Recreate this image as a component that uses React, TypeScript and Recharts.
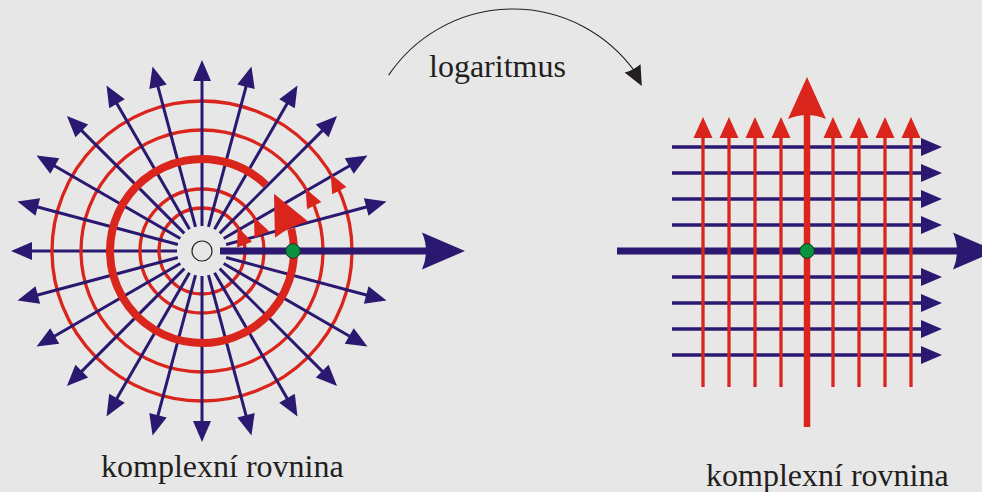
import React from 'react';
import { ScatterChart, Scatter, XAxis, YAxis } from 'recharts';

const W = 982;
const H = 492;
const X_DOMAIN: [number, number] = [0, 982];
const Y_DOMAIN: [number, number] = [0, 492];
const PX = W / (X_DOMAIN[1] - X_DOMAIN[0]);

const BG = '#e7e7e7';
const NAVY = '#2b1870';
const RED = '#da251d';
const GREEN = '#08943f';
const INK = '#231f20';
const FONT = "'Liberation Serif', 'Times New Roman', Times, serif";

// ---------- data: left figure (z-plane) ----------
const leftCenter = [202, 251];
const rayAngles = [15, 30, 45, 60, 75, 90, 105, 120, 135, 150, 165, 195, 210, 225, 240, 255, 270, 285, 300, 315, 330, 345];
const backRayAngle = 180;
const rayRadii = [25, 191];
const circleRadii = [43, 62, 121, 150];
const circleArrowAngles = [34, 33, 31, 31];
const spiralRadius = 92;
const spiralSpan = [46, 374];
const spiralArrowAngle = 38.5;
const leftAxisSpan = [220, 465];
const leftPoint = [293, 251];

// ---------- data: right figure (w-plane) ----------
const rightCenter = [807, 251];
const gridStep = 26;
const gridOffsets = [-4, -3, -2, -1, 1, 2, 3, 4];
const hGridSpan = [672, 942];
const vGridSpan = [387, 117];
const rightAxisH = [617, 996];
const rightAxisV = [427, 77];

// ---------- data: mapping arc + titles ----------
const mapArcCenter = [513, 159];
const mapArcRadius = 150;
const mapArcAngles = [146, 29.5]; // start, arrow tip
const titles = ['logaritmus', 'komplexní rovnina', 'komplexní rovnina'];
const titlePos = [[429, 77], [101, 477], [706, 486]];

// ---------- helpers ----------
const rad = (d: number) => (d * Math.PI) / 180;
const deg = (r: number) => (r * 180) / Math.PI;
const polar = (c: number[], r: number, a: number) => ({
  x: c[0] + r * Math.cos(rad(a)),
  y: c[1] - r * Math.sin(rad(a)),
});
const dirOf = (from: { x: number; y: number }, to: { x: number; y: number }) =>
  deg(Math.atan2(-(to.y - from.y), to.x - from.x));

const NoShape = () => <g />;

const makeArrow = (len: number, wid: number, fill: string, notch = 0) => (props: any) => {
  const { cx, cy, payload } = props;
  if (cx == null || cy == null) return <g />;
  const a = rad(payload.dir);
  const L = len * PX;
  const Wd = wid * PX;
  const ux = Math.cos(a);
  const uy = -Math.sin(a);
  const px = -uy;
  const py = ux;
  const bx = cx - L * ux;
  const by = cy - L * uy;
  const lx = bx + (px * Wd) / 2;
  const ly = by + (py * Wd) / 2;
  const rx = bx - (px * Wd) / 2;
  const ry = by - (py * Wd) / 2;
  const qx = bx + 2 * notch * ux;
  const qy = by + 2 * notch * uy;
  const d = `M${cx},${cy} L${lx},${ly} Q${qx},${qy} ${rx},${ry} Z`;
  return <path d={d} fill={fill} stroke="none" />;
};

const RingShape = (stroke: string, width: number, fill = 'none') => (props: any) => {
  const { cx, cy, payload } = props;
  return <circle cx={cx} cy={cy} r={payload.r * PX} fill={fill} stroke={stroke} strokeWidth={width} />;
};

const ArcShape = (stroke: string, width: number) => (props: any) => {
  const { cx, cy, payload } = props;
  const r = payload.r * PX;
  const a0 = rad(payload.a0);
  const a1 = rad(payload.a1);
  const x0 = cx + r * Math.cos(a0);
  const y0 = cy - r * Math.sin(a0);
  const x1 = cx + r * Math.cos(a1);
  const y1 = cy - r * Math.sin(a1);
  const span = Math.abs(payload.a1 - payload.a0);
  const large = span > 180 ? 1 : 0;
  const sweep = payload.a1 > payload.a0 ? 0 : 1;
  return (
    <path
      d={`M${x0},${y0} A${r},${r} 0 ${large} ${sweep} ${x1},${y1}`}
      fill="none"
      stroke={stroke}
      strokeWidth={width}
    />
  );
};

const TextShape = (props: any) => {
  const { cx, cy, payload } = props;
  return (
    <text x={cx} y={cy} fontFamily={FONT} fontSize={32} fill={INK} textAnchor="start">
      {payload.text}
    </text>
  );
};

const segment = (key: string, pts: { x: number; y: number }[], color: string, width: number) => (
  <Scatter
    key={key}
    data={pts}
    line={{ stroke: color, strokeWidth: width, strokeLinecap: 'butt' }}
    lineType="joint"
    shape={NoShape}
    isAnimationActive={false}
  />
);

// ---------- build ----------
const THIN_L = 21;
const THIN_W = 18;

const rayLine = (a: number) => [polar(leftCenter, rayRadii[0], a), polar(leftCenter, rayRadii[1] - THIN_L + 3, a)];
const rayTip = (a: number) => ({ ...polar(leftCenter, rayRadii[1], a), dir: a });

const CIRC_L = 19;
const circleArrows = circleRadii.map((r, i) => {
  const tip = polar(leftCenter, r, circleArrowAngles[i]);
  const base = polar(leftCenter, r, circleArrowAngles[i] - deg(CIRC_L / r));
  return { ...tip, dir: dirOf(base, tip) };
});

const SPIRAL_L = 40;
const spiralArrow = (() => {
  const tip = polar(leftCenter, spiralRadius, spiralArrowAngle);
  const base = polar(leftCenter, spiralRadius, spiralArrowAngle - deg(SPIRAL_L / spiralRadius));
  return [{ ...tip, dir: dirOf(base, tip) }];
})();

const MAP_L = 20;
const mapBaseAngle = mapArcAngles[1] + deg(MAP_L / mapArcRadius);
const mapArrow = (() => {
  const tip = polar(mapArcCenter, mapArcRadius - 2, mapArcAngles[1]);
  const base = polar(mapArcCenter, mapArcRadius, mapBaseAngle);
  return [{ ...tip, dir: dirOf(base, tip) }];
})();

const titleData = titles.map((t, i) => ({ x: titlePos[i][0], y: titlePos[i][1], text: t }));

const hY = gridOffsets.map((o) => rightCenter[1] + o * gridStep);
const vX = gridOffsets.map((o) => rightCenter[0] + o * gridStep);

const BIG_L = 43;
const BIG_W = 37;
const BIGV_L = 42;
const BIGV_W = 38;

const navyThin = makeArrow(THIN_L, THIN_W, NAVY);
const redThin = makeArrow(THIN_L, 19, RED);
const redCirc = makeArrow(CIRC_L, 16, RED);
const redSpiral = makeArrow(SPIRAL_L, 37, RED, 2);
const navyBig = makeArrow(BIG_L, BIG_W, NAVY, 4);
const redBig = makeArrow(BIGV_L, BIGV_W, RED, 4);
const blackArrow = makeArrow(MAP_L, 18, INK, 1);

export default function App() {
  return (
    <div style={{ position: 'absolute', left: 0, top: 0, width: W, height: H, background: BG, overflow: 'hidden' }}>
      <ScatterChart width={W} height={H} margin={{ top: 0, right: 0, bottom: 0, left: 0 }}>
        <XAxis type="number" dataKey="x" domain={X_DOMAIN} allowDataOverflow hide />
        <YAxis type="number" dataKey="y" domain={Y_DOMAIN} reversed allowDataOverflow hide />

        {/* titles and mapping arc */}
        <Scatter data={titleData} shape={TextShape} isAnimationActive={false} />
        <Scatter
          data={[{ x: mapArcCenter[0], y: mapArcCenter[1], r: mapArcRadius, a0: mapArcAngles[0], a1: mapBaseAngle - 1 }]}
          shape={ArcShape(INK, 1.1)}
          isAnimationActive={false}
        />
        <Scatter data={mapArrow} shape={blackArrow} isAnimationActive={false} />

        {/* left: back ray under circles */}
        {segment('ray-back', rayLine(backRayAngle), NAVY, 3)}
        <Scatter data={[rayTip(backRayAngle)]} shape={navyThin} isAnimationActive={false} />

        {/* left: thin circles */}
        <Scatter
          data={circleRadii.map((r) => ({ x: leftCenter[0], y: leftCenter[1], r }))}
          shape={RingShape(RED, 3.3)}
          isAnimationActive={false}
        />

        {/* left: rays */}
        {rayAngles.map((a) => segment(`ray-${a}`, rayLine(a), NAVY, 3))}
        <Scatter data={rayAngles.map(rayTip)} shape={navyThin} isAnimationActive={false} />

        {/* left: thick spiral arc */}
        <Scatter
          data={[{ x: leftCenter[0], y: leftCenter[1], r: spiralRadius, a0: spiralSpan[0], a1: spiralSpan[1] }]}
          shape={ArcShape(RED, 8)}
          isAnimationActive={false}
        />
        <Scatter data={circleArrows} shape={redCirc} isAnimationActive={false} />
        <Scatter data={spiralArrow} shape={redSpiral} isAnimationActive={false} />

        {/* left: thick real axis */}
        {segment(
          'left-axis',
          [
            { x: leftAxisSpan[0], y: leftCenter[1] },
            { x: leftAxisSpan[1] - BIG_L + 6, y: leftCenter[1] },
          ],
          NAVY,
          7
        )}
        <Scatter data={[{ x: leftAxisSpan[1], y: leftCenter[1], dir: 0 }]} shape={navyBig} isAnimationActive={false} />

        {/* left: origin hole and point */}
        <Scatter
          data={[{ x: leftCenter[0], y: leftCenter[1], r: 10 }]}
          shape={RingShape(INK, 1.2, 'none')}
          isAnimationActive={false}
        />
        <Scatter
          data={[{ x: leftPoint[0], y: leftPoint[1], r: 7.3 }]}
          shape={RingShape('#17361f', 1, GREEN)}
          isAnimationActive={false}
        />

        {/* right: horizontal navy lines */}
        {hY.map((y) =>
          segment(
            `h-${y}`,
            [
              { x: hGridSpan[0], y },
              { x: hGridSpan[1] - THIN_L + 3, y },
            ],
            NAVY,
            3.3
          )
        )}
        <Scatter data={hY.map((y) => ({ x: hGridSpan[1], y, dir: 0 }))} shape={navyThin} isAnimationActive={false} />
        {segment(
          'right-axis-h',
          [
            { x: rightAxisH[0], y: rightCenter[1] },
            { x: rightAxisH[1] - BIG_L + 6, y: rightCenter[1] },
          ],
          NAVY,
          7
        )}
        <Scatter data={[{ x: rightAxisH[1], y: rightCenter[1], dir: 0 }]} shape={navyBig} isAnimationActive={false} />

        {/* right: vertical red lines */}
        {vX.map((x) =>
          segment(
            `v-${x}`,
            [
              { x, y: vGridSpan[0] },
              { x, y: vGridSpan[1] + THIN_L - 3 },
            ],
            RED,
            3.3
          )
        )}
        <Scatter data={vX.map((x) => ({ x, y: vGridSpan[1], dir: 90 }))} shape={redThin} isAnimationActive={false} />
        {segment(
          'right-axis-v',
          [
            { x: rightCenter[0], y: rightAxisV[0] },
            { x: rightCenter[0], y: rightAxisV[1] + BIGV_L - 6 },
          ],
          RED,
          6.5
        )}
        <Scatter data={[{ x: rightCenter[0], y: rightAxisV[1], dir: 90 }]} shape={redBig} isAnimationActive={false} />

        <Scatter
          data={[{ x: rightCenter[0], y: rightCenter[1], r: 7.3 }]}
          shape={RingShape('#17361f', 1, GREEN)}
          isAnimationActive={false}
        />
      </ScatterChart>
    </div>
  );
}
